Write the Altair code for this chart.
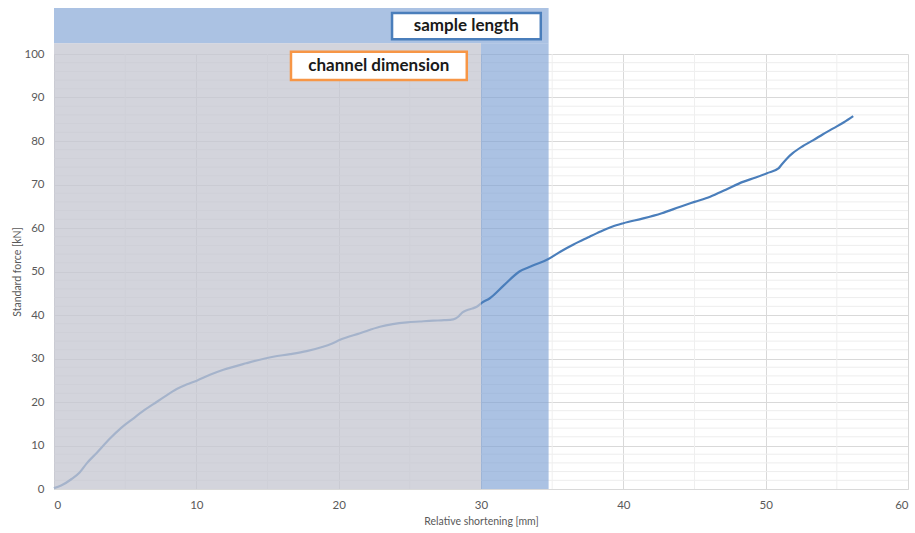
import altair as alt
import pandas as pd

# --- data ---
shortening = [0, 0.5, 1.24, 1.8, 2.3, 3.0, 3.93, 4.7, 5.57, 6.2, 6.98, 7.8, 8.62, 9.3,
              10.03, 11.0, 11.9, 13.5, 15.4, 16.6, 17.75, 18.9, 19.5,
              20.1, 21.5, 22.9, 23.8, 24.8, 25.7, 26.65, 27.4, 28.05, 28.4, 28.7, 29.0,
              29.4, 29.7, 30.05, 30.6, 31.6, 32.7, 33.6, 34.7, 35.6, 36.5, 37.5, 38.4,
              39.2, 40.0, 41.4, 42.7, 44.0, 45.0, 46.1, 47.2, 48.4, 49.3, 50.1, 50.9,
              51.1, 51.5, 51.9, 52.6, 53.35, 54.0, 54.75, 55.5, 56.15]
force = [0.2, 0.8, 2.3, 3.8, 5.9, 8.3, 11.6, 14.0, 16.2, 17.8, 19.5, 21.3, 23.0, 24.0,
         24.9, 26.3, 27.4, 28.9, 30.4, 31.0, 31.7, 32.7, 33.4,
         34.3, 35.8, 37.3, 37.9, 38.3, 38.5, 38.7, 38.8, 39.0, 39.6, 40.6, 41.1,
         41.5, 41.9, 42.8, 43.8, 46.8, 50.0, 51.3, 52.8, 54.6, 56.2, 57.8, 59.2,
         60.3, 61.1, 62.2, 63.4, 64.9, 66.0, 67.2, 68.8, 70.6, 71.6, 72.6, 73.7,
         74.5, 76.0, 77.2, 78.8, 80.2, 81.5, 82.9, 84.3, 85.7]

x_major = [0, 10, 20, 30, 40, 50, 60]
x_minor = [5, 15, 25, 35, 45, 55]
y_major = [0, 10, 20, 30, 40, 50, 60, 70, 80, 90, 100]
y_minor = [v for v in range(2, 100, 2) if v % 10 != 0]

# shaded regions (x0, x1, y0, y1)
channel_region = dict(x0=0, x1=30, y0=0, y1=102.5)
sample_regions_x0 = [30, 0]
sample_regions_x1 = [34.75, 34.75]
sample_regions_y0 = [0, 102.5]
sample_regions_y1 = [102.5, 110.6]

labels = ["sample length", "channel dimension"]
label_x = [28.97, 22.82]
label_y = [106.4, 97.25]
box_x0 = [23.75, 16.65]
box_x1 = [34.2, 29.0]
box_y0 = [103.4, 94.0]
box_y1 = [109.4, 100.5]
box_colors = ["#4a7ebb", "#f79646"]

FONT = "Lato"

line_df = pd.DataFrame({"x": shortening, "y": force})
xs = alt.Scale(domain=[0, 60], nice=False)
ys = alt.Scale(domain=[0, 100], nice=False)

base_x = alt.X("x:Q", scale=xs,
               axis=alt.Axis(values=x_major, title="Relative shortening [mm]", grid=True,
                             gridColor="#d9d9d9", gridWidth=1, ticks=False,
                             domain=True, domainColor="#d9d9d9", labelColor="#595959",
                             labelFont=FONT, labelFontSize=11.5, labelPadding=10,
                             titleFont=FONT, titleFontSize=10.5, titleFontWeight="normal",
                             titleColor="#595959", titlePadding=6))
base_y = alt.Y("y:Q", scale=ys,
               axis=alt.Axis(values=y_major, title="Standard force  [kN]", grid=True,
                             gridColor="#d9d9d9", gridWidth=1, ticks=False, domain=False,
                             labelColor="#595959", labelFont=FONT, labelFontSize=11.5,
                             labelPadding=10, titleFont=FONT, titleFontSize=10.5,
                             titleFontWeight="normal", titleColor="#595959",
                             titlePadding=1))

axes = alt.Chart(line_df).mark_point(opacity=0).encode(x=base_x, y=base_y)

minor_h = alt.Chart(pd.DataFrame({"y": y_minor})).mark_rule(
    color="#ededed", strokeWidth=1).encode(y=alt.Y("y:Q", scale=ys))
minor_v = alt.Chart(pd.DataFrame({"x": x_minor})).mark_rule(
    color="#efefef", strokeWidth=1).encode(x=alt.X("x:Q", scale=xs))

sample_df = pd.DataFrame({"x0": sample_regions_x0, "x1": sample_regions_x1,
                          "y0": sample_regions_y0, "y1": sample_regions_y1})
sample = alt.Chart(sample_df).mark_rect(color="#7fa2d4", opacity=0.66, clip=False).encode(
    x=alt.X("x0:Q", scale=xs), x2="x1:Q", y=alt.Y("y0:Q", scale=ys), y2="y1:Q")

line = alt.Chart(line_df).mark_line(color="#4a7ebb", strokeWidth=2.2,
                                    interpolate="monotone").encode(
    x=alt.X("x:Q", scale=xs), y=alt.Y("y:Q", scale=ys))

chan_df = pd.DataFrame([channel_region])
channel = alt.Chart(chan_df).mark_rect(color="#c4c6d0", opacity=0.75, clip=False).encode(
    x=alt.X("x0:Q", scale=xs), x2="x1:Q", y=alt.Y("y0:Q", scale=ys), y2="y1:Q")

box_df = pd.DataFrame({"label": labels, "lx": label_x, "ly": label_y, "x0": box_x0,
                       "x1": box_x1, "y0": box_y0, "y1": box_y1, "c": box_colors})
boxes = alt.Chart(box_df).mark_rect(fill="white", strokeWidth=2.5, clip=False).encode(
    x=alt.X("x0:Q", scale=xs), x2="x1:Q", y=alt.Y("y0:Q", scale=ys), y2="y1:Q",
    stroke=alt.Stroke("c:N", scale=None))
texts = alt.Chart(box_df).mark_text(font=FONT, fontSize=17, fontWeight="bold",
                                    color="#1a1a1a", clip=False, baseline="middle",
                                    align="center").encode(
    x=alt.X("lx:Q", scale=xs), y=alt.Y("ly:Q", scale=ys), text="label:N")

chart = alt.layer(axes, minor_h, minor_v, sample, line, channel, boxes, texts).properties(
    width=854, height=435,
    autosize=alt.AutoSizeParams(type="none"),
    padding={"left": 54, "top": 54, "right": 7, "bottom": 44},
    background="white",
).configure_view(stroke=None)

chart.save("out.html", embed_options={"renderer": "svg", "actions": False})
